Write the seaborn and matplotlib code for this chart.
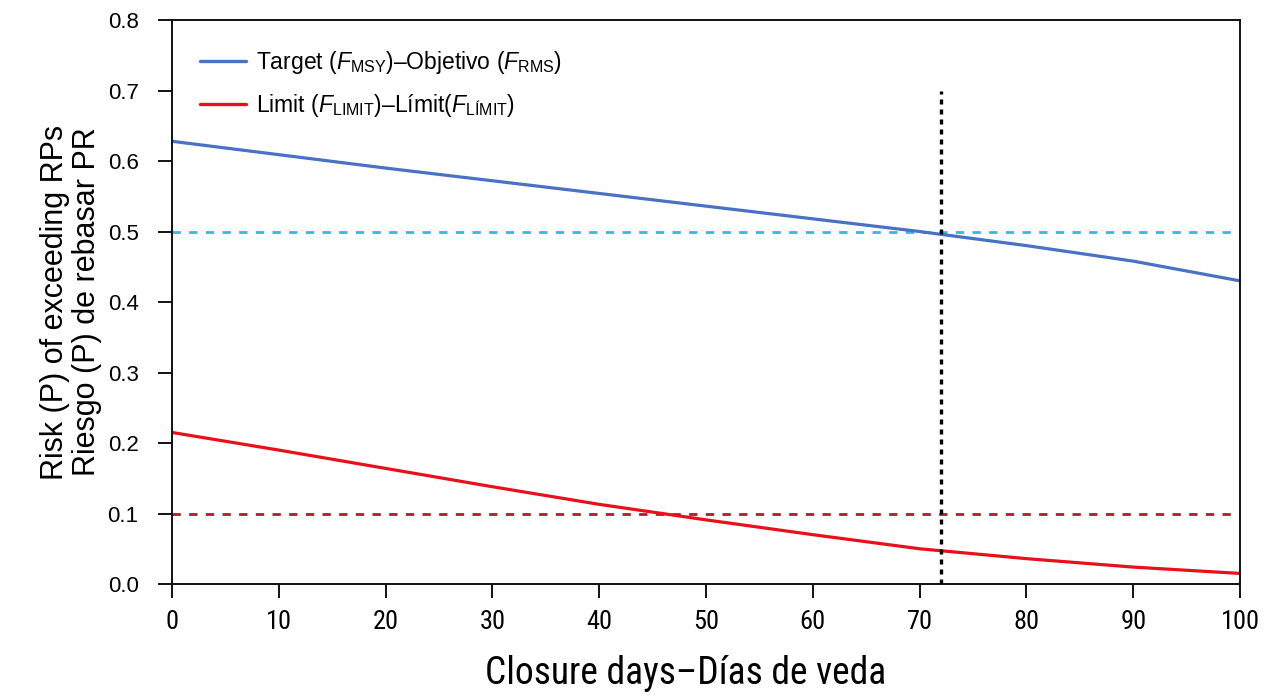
import numpy as np
import pandas as pd
import matplotlib
matplotlib.use("Agg")
import matplotlib.pyplot as plt
import seaborn as sns

# ---- data ----
days = [0, 10, 20, 30, 40, 50, 60, 70, 80, 90, 100]
target_risk = [0.628, 0.609, 0.590, 0.572, 0.554, 0.536, 0.518, 0.500, 0.480, 0.458, 0.430]
limit_risk = [0.215, 0.190, 0.164, 0.138, 0.113, 0.091, 0.070, 0.050, 0.036, 0.024, 0.015]
target_ref = 0.5
limit_ref = 0.1
closure_day = 72
closure_top = 0.7
x_ticks = [0, 10, 20, 30, 40, 50, 60, 70, 80, 90, 100]
y_ticks = [0.0, 0.1, 0.2, 0.3, 0.4, 0.5, 0.6, 0.7, 0.8]

lab_target = r"Target ($F_{\mathrm{MSY}}$)–Objetivo ($F_{\mathrm{RMS}}$)"
lab_limit = r"Limit ($F_{\mathrm{LIMIT}}$)–Límit($F_{\mathrm{LÍMIT}}$)"

df = pd.DataFrame({
    "days": days * 2,
    "risk": target_risk + limit_risk,
    "series": [lab_target] * len(days) + [lab_limit] * len(days),
})

sns.set_style("ticks")
plt.rcParams["font.family"] = ["Liberation Sans", "DejaVu Sans"]
plt.rcParams["mathtext.fontset"] = "custom"
plt.rcParams["mathtext.rm"] = "Liberation Sans"
plt.rcParams["mathtext.it"] = "Liberation Sans:italic"
plt.rcParams["mathtext.bf"] = "Liberation Sans:bold"
plt.rcParams["text.color"] = "black"
plt.rcParams["axes.labelcolor"] = "black"
plt.rcParams["xtick.color"] = "black"
plt.rcParams["ytick.color"] = "black"

fig = plt.figure(figsize=(12.7, 7), dpi=100)
ax = fig.add_axes([0.1354, 0.1657, 0.8410, 0.8057])

palette = {lab_target: "#4a72c4", lab_limit: "#e8101a"}
sns.lineplot(data=df, x="days", y="risk", hue="series", palette=palette,
             linewidth=2.3, ax=ax, legend=True)

ax.axhline(target_ref, color="#35b8e6", linestyle=(0, (3, 3)), linewidth=2.0, zorder=1)
ax.axhline(limit_ref, color="#b01c2e", linestyle=(0, (3, 3)), linewidth=2.0, zorder=1)
ax.plot([closure_day, closure_day], [0, closure_top], color="black",
        linestyle=(0, (1.5, 1.5)), linewidth=2.4, zorder=3)

ax.set_xlim(0, 100)
ax.set_ylim(0, 0.8)
ax.set_xticks(x_ticks)
ax.set_yticks(y_ticks)
ax.set_yticklabels([f"{v:.1f}" for v in y_ticks], fontsize=16)
narrow = ["Liberation Sans Narrow", "Roboto Condensed", "Liberation Sans", "DejaVu Sans"]
ax.set_xticklabels([str(v) for v in x_ticks], fontsize=19, family=narrow)
ax.tick_params(axis="both", direction="out", length=10, width=1.3)
ax.tick_params(axis="x", pad=9)
ax.tick_params(axis="y", pad=14)
for s in ax.spines.values():
    s.set_linewidth(1.4)
    s.set_color("#111111")

ax.set_xlabel("Closure days–Días de veda", fontsize=27, family=narrow)
ax.xaxis.set_label_coords(0.481, -0.125)
ax.set_ylabel("Risk (P) of exceeding RPs\nRiesgo (P) de rebasar PR", fontsize=22,
              labelpad=4, linespacing=1.1)

leg = ax.legend(loc="upper left", frameon=False, fontsize=16.5, handlelength=2.0,
                handletextpad=0.45, labelspacing=0.7, borderaxespad=0.6,
                bbox_to_anchor=(0.005, 0.99))
for line in leg.get_lines():
    line.set_linewidth(2.4)

fig.savefig("out.png", dpi=100)
